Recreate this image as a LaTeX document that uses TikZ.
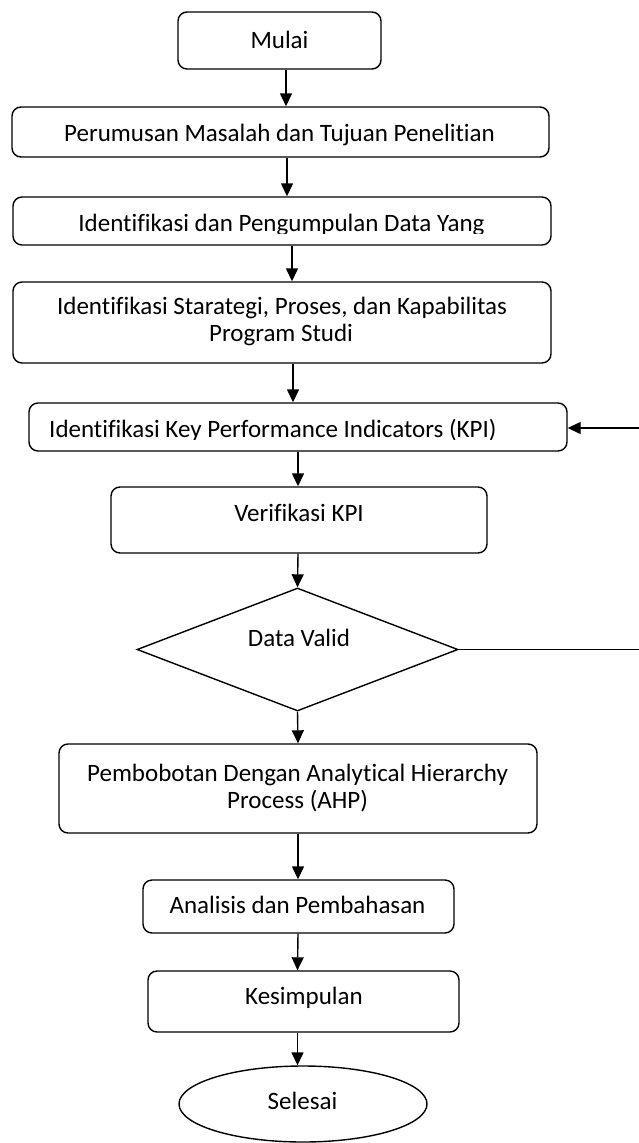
\documentclass[tikz,border=0pt]{standalone}
\usepackage{fontspec}
\setmainfont{Carlito}[Ligatures={NoCommon,NoRare}]
\usetikzlibrary{shapes.geometric,arrows.meta}
\begin{document}
\begin{tikzpicture}[x=1pt,y=-1pt,
  box/.style={draw, rounded corners=9pt, line width=1.4pt, inner sep=0pt},
  diam/.style={draw, diamond, line width=1.4pt, inner sep=0pt},
  oval/.style={draw, ellipse, line width=1.4pt, inner sep=0pt},
  arr/.style={-{Triangle[length=13pt,width=12pt]}, line width=1.4pt},
  conn/.style={line width=1.4pt},
  lbl/.style={font=\fontsize{25}{27.5}\selectfont, inner sep=0pt, anchor=base},
  lblw/.style={font=\fontsize{25}{27.5}\selectfont, inner sep=0pt, anchor=base west}]
\useasboundingbox (0,0) rectangle (639,1143);

% boxes
\node[box, minimum width=203pt, minimum height=57pt] (mulai) at (279.5,40.5) {};
\node[box, minimum width=537pt, minimum height=50pt] (perumusan) at (280.5,132) {};
\node[box, minimum width=538pt, minimum height=48pt] (idpeng) at (282,221) {};
\node[box, minimum width=538pt, minimum height=81pt] (strat) at (282,322.5) {};
\node[box, minimum width=538pt, minimum height=48pt] (kpi) at (298,427) {};
\node[box, minimum width=376pt, minimum height=66pt] (verif) at (299,520) {};
\node[diam, minimum width=321pt, minimum height=123pt] (valid) at (297.5,649.5) {};
\node[box, minimum width=478pt, minimum height=89pt] (pemb) at (298,788.5) {};
\node[box, minimum width=311pt, minimum height=53pt] (analisis) at (298.5,906.5) {};
\node[box, minimum width=311pt, minimum height=61pt] (kes) at (303.5,1001.5) {};
\node[oval, minimum width=248pt, minimum height=76pt] (selesai) at (303,1104) {};

% texts
\node[lbl] (tmulai) at (279.5,48) {Mulai};
\node[lbl] (tperumusan) at (279.5,141) {Perumusan Masalah dan Tujuan Penelitian};
\begin{scope}
  \clip (13,197) rectangle (551,233.5);
  \node[lbl] (tidpeng) at (281.5,231) {Identifikasi dan Pengumpulan Data Yang};
\end{scope}
\node[lbl] (tstrat1) at (282,314) {Identifikasi Starategi, Proses, dan Kapabilitas};
\node[lbl] (tstrat2) at (281,341.5) {Program Studi};
\begin{scope}
  \clip (29,403) rectangle (567,439.5);
  \node[lblw] (tkpi) at (49,437) {Identifikasi Key Performance Indicators (KPI)};
\end{scope}
\node[lbl] (tverif) at (299,521) {Verifikasi KPI};
\node[lbl] (tvalid) at (299,646) {Data Valid};
\node[lbl] (tpemb1) at (297.5,781) {Pembobotan Dengan Analytical Hierarchy};
\node[lbl] (tpemb2) at (297.5,808.5) {Process (AHP)};
\node[lbl] (tanalisis) at (297.5,913) {Analisis dan Pembahasan};
\node[lbl] (tkes) at (304,1004) {Kesimpulan};
\node[lbl] (tselesai) at (302.5,1109) {Selesai};

% connector x positions
\coordinate (x1) at (286,0);
\coordinate (x2) at (287,0);
\coordinate (x3) at (292,0);
\coordinate (x4) at (293,0);
\coordinate (x5) at (298,0);
\coordinate (x6) at (297.5,0);
\coordinate (fbin) at (639,428);
\coordinate (fbout) at (639,649.5);

\draw[arr] (x1 |- mulai.south) -- (x1 |- perumusan.north);
\draw[arr] (x2 |- perumusan.south) -- (x2 |- idpeng.north);
\draw[arr] (x3 |- idpeng.south) -- (x3 |- strat.north);
\draw[arr] (x4 |- strat.south) -- (x4 |- kpi.north);
\draw[arr] (x5 |- kpi.south) -- (x5 |- verif.north);
\draw[arr] (x5 |- verif.south) -- (valid.north);
\draw[arr] (valid.south) -- (x5 |- pemb.north);
\draw[arr] (x5 |- pemb.south) -- (x5 |- analisis.north);
\draw[arr] (x5 |- analisis.south) -- (x6 |- kes.north);
\draw[arr] (x6 |- kes.south) -- (x6 |- selesai.north);
\draw[arr] (fbin) -- (kpi.east |- fbin);
\draw[conn] (valid.east) -- (fbout);
\end{tikzpicture}
\end{document}
